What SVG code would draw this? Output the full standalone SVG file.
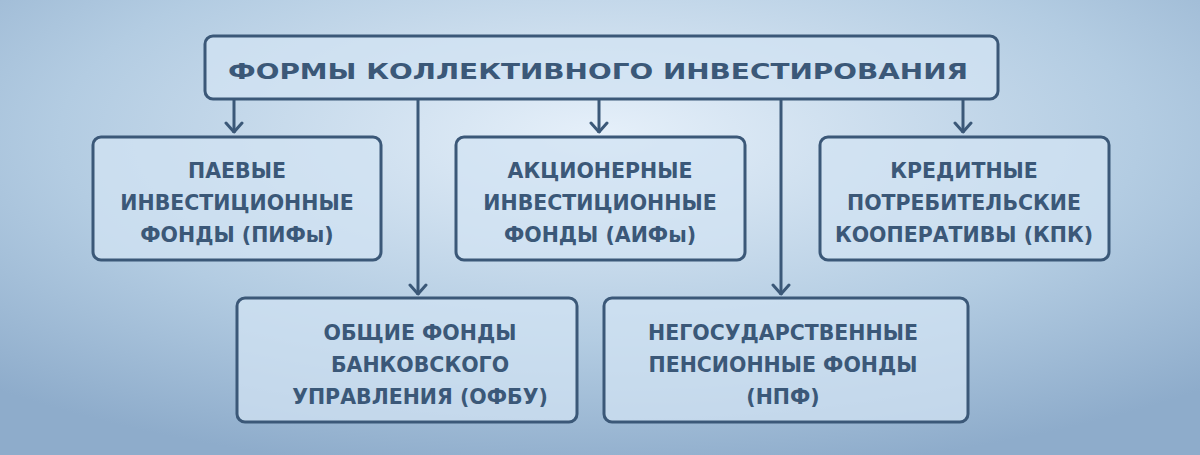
<svg xmlns="http://www.w3.org/2000/svg" width="1200" height="455" viewBox="0 0 1200 455">
<defs>
<radialGradient id="bg" cx="0.5" cy="0.3" r="0.75">
<stop offset="0" stop-color="#e6f0fa"/>
<stop offset="0.6" stop-color="#b3cce2"/>
<stop offset="1" stop-color="#8eaccb"/>
</radialGradient>
<marker id="ah" markerWidth="16" markerHeight="20" viewBox="0 0 16 20" refX="14" refY="10" orient="auto" markerUnits="userSpaceOnUse">
<path d="M4 2 L13 10 L4 18" fill="none" stroke="#3b5878" stroke-width="3" stroke-linecap="round" stroke-linejoin="round"/>
</marker>
</defs>
<style>
.box{fill:#d2e3f3;fill-opacity:0.75;stroke:#3b5878;stroke-width:3}
.t{font-family:"DejaVu Sans",sans-serif;font-weight:bold;fill:#3b5878;text-anchor:middle;font-size:20.5px}
.c{fill:none;stroke:#3b5878;stroke-width:3}
</style>
<rect width="1200" height="455" fill="url(#bg)"/>
<g id="connectors">
<path class="c" d="M234 99 V133" marker-end="url(#ah)"/>
<path class="c" d="M599 99 V133" marker-end="url(#ah)"/>
<path class="c" d="M963 99 V133" marker-end="url(#ah)"/>
<path class="c" d="M418 99 V295" marker-end="url(#ah)"/>
<path class="c" d="M781 99 V295" marker-end="url(#ah)"/>
</g>
<g id="title"><rect class="box" x="205" y="36" width="793" height="63" rx="8"/>
<text class="t" x="598" y="79" font-size="30" textLength="740" lengthAdjust="spacingAndGlyphs">ФОРМЫ КОЛЛЕКТИВНОГО ИНВЕСТИРОВАНИЯ</text></g>
<g id="pif"><rect class="box" x="93" y="137" width="288" height="123" rx="8"/>
<text class="t" x="237" y="178">ПАЕВЫЕ</text><text class="t" x="237" y="210">ИНВЕСТИЦИОННЫЕ</text><text class="t" x="237" y="242">ФОНДЫ (ПИФы)</text></g>
<g id="aif"><rect class="box" x="456" y="137" width="289" height="123" rx="8"/>
<text class="t" x="600" y="178">АКЦИОНЕРНЫЕ</text><text class="t" x="600" y="210">ИНВЕСТИЦИОННЫЕ</text><text class="t" x="600" y="242">ФОНДЫ (АИФы)</text></g>
<g id="kpk"><rect class="box" x="820" y="137" width="289" height="123" rx="8"/>
<text class="t" x="964" y="178">КРЕДИТНЫЕ</text><text class="t" x="964" y="210">ПОТРЕБИТЕЛЬСКИЕ</text><text class="t" x="964" y="242">КООПЕРАТИВЫ (КПК)</text></g>
<g id="ofbu"><rect class="box" x="237" y="298" width="340" height="124" rx="8"/>
<text class="t" x="420" y="340">ОБЩИЕ ФОНДЫ</text><text class="t" x="420" y="372">БАНКОВСКОГО</text><text class="t" x="420" y="404">УПРАВЛЕНИЯ (ОФБУ)</text></g>
<g id="npf"><rect class="box" x="604" y="298" width="364" height="124" rx="8"/>
<text class="t" x="783" y="340">НЕГОСУДАРСТВЕННЫЕ</text><text class="t" x="783" y="372">ПЕНСИОННЫЕ ФОНДЫ</text><text class="t" x="783" y="404">(НПФ)</text></g>
</svg>
